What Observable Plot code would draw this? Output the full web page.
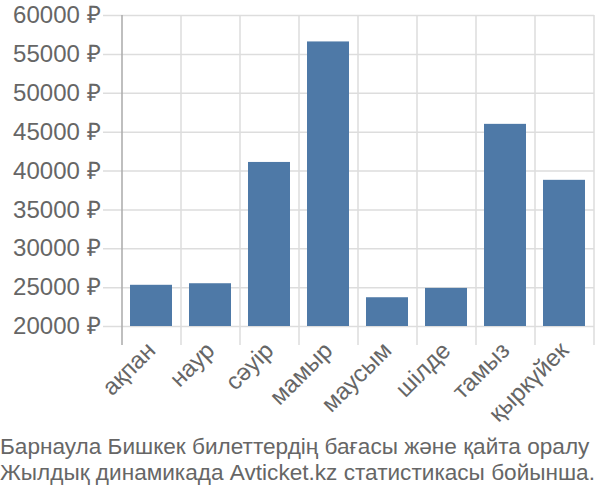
<!DOCTYPE html>
<html>
<head>
<meta charset="utf-8">
<script src="https://cdn.jsdelivr.net/npm/d3@7"></script>
<script src="https://cdn.jsdelivr.net/npm/@observablehq/plot@0.6"></script>
<style>
  html, body { margin: 0; padding: 0; background: #fff; }
  #chart { width: 600px; }
  .caption { font-family: "Liberation Sans", Arial, sans-serif; font-size: 22.6px; line-height: 26px; color: #666; margin-top: 9px; white-space: nowrap; }
</style>
</head>
<body>
<div id="chart"></div>
<script>
const months = ["ақпан", "наур", "сәуір", "мамыр", "маусым", "шілде", "тамыз", "қыркүйек"];
const prices = [25300, 25500, 41100, 56600, 23700, 24900, 46000, 38800];
const yTicks = [20000, 25000, 30000, 35000, 40000, 45000, 50000, 55000, 60000];
const captionLines = [
  "Барнаула Бишкек билеттердің бағасы және қайта оралу",
  "Жылдық динамикада Avticket.kz статистикасы бойынша."
];

const data = months.map((m, i) => ({month: m, price: prices[i]}));

const width = 600, height = 428;
const marginLeft = 122, marginRight = 6, marginTop = 15, marginBottom = height - 326;
const step = (width - marginLeft - marginRight) / months.length;

const chart = Plot.plot({
  width, height, marginLeft, marginRight, marginTop, marginBottom,
  style: {fontFamily: "'Liberation Sans', Arial, sans-serif", fontSize: "24px", color: "#666", background: "#fff", overflow: "visible"},
  x: {domain: months, paddingInner: 0.28, paddingOuter: 0.14, label: null},
  y: {domain: [20000, 60000], label: null},
  marks: [
    Plot.ruleY(yTicks, {y: d => d, stroke: "#ddd", strokeWidth: 1.5, insetLeft: -19}),
    Plot.ruleX(months.slice(1), {x: d => d, dx: -step / 2, stroke: "#ddd", strokeWidth: 1.5, insetBottom: -19}),
    Plot.ruleX(months.slice(-1), {x: d => d, dx: step / 2, stroke: "#ddd", strokeWidth: 1.5, insetBottom: -19}),
    Plot.ruleX(months.slice(0, 1), {x: d => d, dx: -step / 2, stroke: "#aaa", strokeWidth: 1.5, insetBottom: -19}),
    Plot.barY(data, {x: "month", y1: 20000, y2: "price", fill: "#4e79a7"}),
    Plot.axisY(yTicks, {tickSize: 0, tickPadding: 22, tickFormat: d => d + " ₽", fill: "#666", fontSize: 24}),
    Plot.axisX({tickSize: 0, tickPadding: 20, tickRotate: -45, fill: "#666", fontSize: 24})
  ]
});
document.getElementById("chart").appendChild(chart);
const cap = document.createElement("div");
cap.className = "caption";
cap.style.marginTop = "6px";
cap.innerHTML = captionLines.map(s => `<div>${s}</div>`).join("");
document.getElementById("chart").appendChild(cap);
</script>
</body>
</html>
